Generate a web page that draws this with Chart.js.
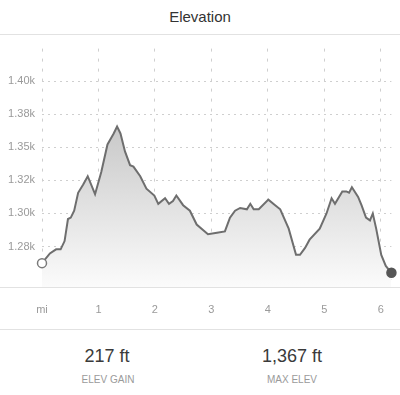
<!DOCTYPE html>
<html>
<head>
<meta charset="utf-8">
<script src="https://cdn.jsdelivr.net/npm/chart.js@4/dist/chart.umd.min.js"></script>
<style>
  html, body { margin: 0; padding: 0; background: #fff; }
  body { width: 400px; height: 395px; position: relative; overflow: hidden;
         font-family: "Liberation Sans", Arial, Helvetica, sans-serif; }
  .title { position: absolute; left: 0; width: 400px; top: 9px; text-align: center;
           font-size: 15px; line-height: 15px; color: #333; }
  .hline { position: absolute; left: 0; width: 400px; height: 1px; background: #e2e2e2; z-index: 2; }
  #wrap { position: absolute; left: 0; top: 35px; width: 400px; height: 294px; }
  .stat { position: absolute; width: 160px; text-align: center; }
  .val { font-size: 18px; line-height: 18px; color: #3a3a3a; top: 347px; }
  .lab { font-size: 10px; line-height: 10px; color: #9a9a9a; top: 375px; }
</style>
</head>
<body>
<div class="title">Elevation</div>
<div class="hline" style="top:34px"></div>
<div id="wrap"><canvas id="c"></canvas></div>
<div class="hline" style="top:287px"></div>
<div class="hline" style="top:329px"></div>
<div class="stat val" id="v1" style="left:27px"></div>
<div class="stat lab" id="l1" style="left:28px"></div>
<div class="stat val" id="v2" style="left:212px"></div>
<div class="stat lab" id="l2" style="left:212px"></div>
<script>
// ---- data (distance in miles, elevation in feet) ----
const miles = [0,0.14,0.25,0.33,0.40,0.46,0.51,0.57,0.64,0.73,0.81,0.94,1.05,1.16,1.23,1.27,1.33,1.39,1.47,1.56,1.62,1.74,1.85,1.99,2.06,2.18,2.25,2.32,2.38,2.50,2.62,2.74,2.94,3.10,3.24,3.33,3.42,3.51,3.63,3.69,3.75,3.84,4.01,4.13,4.22,4.37,4.50,4.57,4.66,4.74,4.92,5.04,5.13,5.19,5.32,5.39,5.44,5.49,5.60,5.66,5.74,5.81,5.86,5.92,6.01,6.09,6.19];
const elevFt = [1268,1275,1278,1278,1284,1300,1301,1306,1319,1325,1331,1318,1334,1354,1359,1362,1367,1362,1349,1339,1338,1331,1322,1317,1311,1315,1311,1313,1317,1310,1306,1296,1289,1290,1291,1301,1306,1308,1307,1311,1307,1307,1314,1310,1307,1293,1274,1274,1279,1285,1293,1304,1315,1311,1320,1320,1319,1323,1316,1310,1301,1299,1304,1293,1274,1266,1261];
const xTickValues = [0,1,2,3,4,5,6];
const xTickLabels = ['mi','1','2','3','4','5','6'];
const yTickValues = [1256,1280,1304,1328,1352,1376,1400];
const yTickLabels = ['','1.28k','1.30k','1.32k','1.35k','1.38k','1.40k'];
const statValues = ['217 ft','1,367 ft'];
const statLabels = ['ELEV GAIN','MAX ELEV'];

document.getElementById('v1').textContent = statValues[0];
document.getElementById('v2').textContent = statValues[1];
document.getElementById('l1').textContent = statLabels[0];
document.getElementById('l2').textContent = statLabels[1];

const points = miles.map((m, i) => ({ x: m, y: elevFt[i] }));
const last = points.length - 1;
const FONT = '"Liberation Sans", Arial, Helvetica, sans-serif';

new Chart(document.getElementById('c'), {
  type: 'line',
  data: {
    datasets: [{
      data: points,
      borderColor: '#6e6e6e',
      borderWidth: 2,
      tension: 0,
      fill: 'start',
      clip: false,
      backgroundColor: (ctx) => {
        const ca = ctx.chart.chartArea;
        if (!ca) return 'rgba(200,200,200,0.5)';
        const g = ctx.chart.ctx.createLinearGradient(0, ca.top + 70, 0, ca.bottom);
        g.addColorStop(0, '#c6c6c6');
        g.addColorStop(1, '#fbfbfb');
        return g;
      },
      pointRadius: (ctx) => (ctx.dataIndex === 0 || ctx.dataIndex === last) ? 4.5 : 0,
      pointHoverRadius: 0,
      pointBackgroundColor: (ctx) => ctx.dataIndex === last ? '#555555' : '#ffffff',
      pointBorderColor: (ctx) => ctx.dataIndex === last ? '#555555' : '#7a7a7a',
      pointBorderWidth: 1.5
    }]
  },
  options: {
    responsive: true,
    maintainAspectRatio: false,
    animation: false,
    events: [],
    layout: { padding: { left: 0, right: 8, top: 0, bottom: 0 } },
    plugins: { legend: { display: false }, tooltip: { enabled: false }, title: { display: false } },
    scales: {
      x: {
        type: 'linear',
        min: 0,
        max: miles[last],
        afterBuildTicks: (s) => { s.ticks = xTickValues.map(v => ({ value: v })); },
        afterFit: (s) => { s.height = 42; },
        ticks: {
          padding: 16,
          color: '#9a9a9a',
          font: { family: FONT, size: 11 },
          callback: (v, i) => xTickLabels[i]
        },
        grid: { color: '#cfcfcf', lineWidth: 1, drawTicks: false, tickBorderDash: [] },
        border: { display: false, dash: [3, 7] }
      },
      y: {
        type: 'linear',
        min: 1250.7,
        max: 1423.5,
        afterBuildTicks: (s) => { s.ticks = yTickValues.map(v => ({ value: v })); },
        afterFit: (s) => { s.width = 42; },
        ticks: {
          padding: 7,
          color: '#9a9a9a',
          font: { family: FONT, size: 11 },
          callback: (v, i) => yTickLabels[i]
        },
        grid: { color: '#cfcfcf', lineWidth: 1, drawTicks: false },
        border: { display: false, dash: [2, 4] }
      }
    }
  }
});
</script>
</body>
</html>
